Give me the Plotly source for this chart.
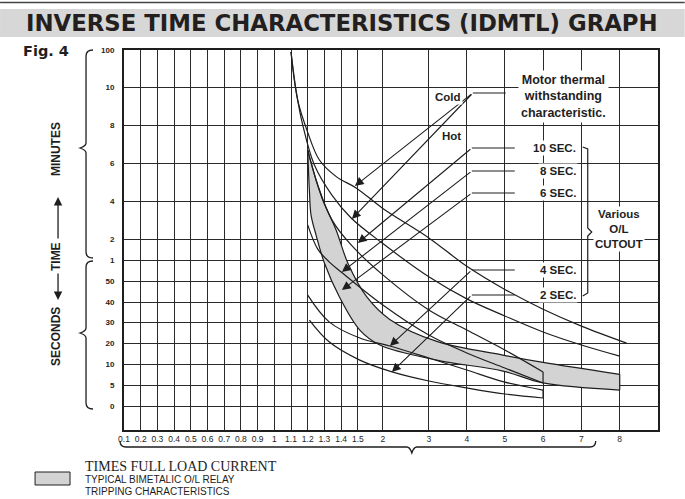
import numpy as np
import plotly.graph_objects as go

# ---------------- data ----------------
# x: multiples of full load current ; y: time in seconds
X_TICK_VALUES = [0.1, 0.2, 0.3, 0.4, 0.5, 0.6, 0.7, 0.8, 0.9, 1.0, 1.1, 1.2, 1.3, 1.4, 1.5, 2, 3, 4, 5, 6, 7, 8]
X_TICK_LABELS = ["0.1", "0.2", "0.3", "0.4", "0.5", "0.6", "0.7", "0.8", "0.9", "1", "1.1", "1.2", "1.3", "1.4", "1.5",
                 "2", "3", "4", "5", "6", "7", "8"]
Y_TICK_SECONDS = [0, 5, 10, 20, 30, 40, 50, 60, 120, 240, 360, 480, 600, 6000]
Y_TICK_LABELS = ["0", "5", "10", "20", "30", "40", "50", "1", "2", "4", "6", "8", "10", "100"]

cold_x = [1.1, 1.14, 1.195, 1.27, 1.375, 1.49, 2, 3, 4, 5, 6, 7, 8.18]
cold_t = [5712, 560, 466, 371, 317, 283, 218, 125, 57, 46, 36.5, 28.3, 20.2]

hot_x = [1.1, 1.13, 1.17, 1.24, 1.345, 1.46, 2, 3, 4, 5, 6, 7, 8]
hot_t = [5712, 592, 482, 355, 260, 188, 108, 52, 41.5, 33.2, 25.5, 19.3, 14.0]

band_upper_x = [1.2, 1.25, 1.29, 1.37, 1.44, 1.68, 2.15, 3.21, 4.95, 6, 8]
band_upper_t = [402, 308, 245, 150, 58.6, 42.4, 31.5, 21, 14.5, 11.0, 7.6]
band_lower_x = [1.2, 1.21, 1.22, 1.25, 1.3, 1.39, 1.54, 1.94, 3.21, 4.95, 6, 8]
band_lower_t = [402, 276, 197, 134, 58.6, 42.4, 26.4, 19.3, 12.1, 8.4, 5.5, 3.8]

sec10_x = [1.2, 1.26, 1.345, 1.46, 2, 3, 4, 5, 6]
sec10_t = [402, 292, 182, 104, 52.9, 36.1, 26.4, 16.9, 8.17]
sec8_x = [1.2, 1.26, 1.33, 1.4, 2, 3, 4, 5, 6]
sec8_t = [166, 92, 59, 54.3, 38.5, 24, 15.5, 9.15, 5.5]
sec4_x = [1.2, 1.33, 1.54, 2.15, 3, 4, 5, 6]
sec4_t = [43.3, 30.2, 22.6, 18.8, 13.1, 8.66, 5.7, 3.8]
sec2_x = [1.21, 1.33, 1.54, 2.2, 3, 4, 5, 6]
sec2_t = [31.2, 20.7, 12.1, 8.2, 5.98, 4.3, 2.86, 1.9]

# ---------------- axis geometry (layout, not data) ----------------
X_TICK_POS = [16.71 * i for i in range(15)] + [259.0, 305.0, 343.0, 381.0, 419.3, 457.7, 496.0]
X_MAP_V = X_TICK_VALUES + [9]
X_MAP_P = X_TICK_POS + [534.3]
Y_TICK_POS = [24, 45, 65.5, 86.5, 107.5, 128, 149, 170, 190.5, 228.5, 266.5, 304.5, 342.5, 380]


def xm(v):
    return np.interp(v, X_MAP_V, X_MAP_P)


def ym(t):
    return np.interp(t, Y_TICK_SECONDS, Y_TICK_POS)


L, R, T, B = 124, 658.3, 50, 430


def PX(x):
    return (x - L) / (R - L)


def PY(y):
    return (B - y) / (B - T)


INK = "#1e1e1e"
LINE = dict(color=INK, width=1.2, shape="spline", smoothing=1.0)
fig = go.Figure()

# gray band (typical bimetallic relay tripping characteristics)
fig.add_trace(go.Scatter(x=xm(band_lower_x), y=ym(band_lower_t), mode="lines", line=LINE, hoverinfo="skip"))
fig.add_trace(go.Scatter(x=xm(band_upper_x), y=ym(band_upper_t), mode="lines", line=LINE, fill="tonexty",
                         fillcolor="#d3d3d3", hoverinfo="skip"))
fig.add_trace(go.Scatter(x=xm([band_upper_x[-1], band_lower_x[-1]]), y=ym([band_upper_t[-1], band_lower_t[-1]]),
                         mode="lines", line=dict(color=INK, width=1.2), hoverinfo="skip"))

for cx, ct in [(cold_x, cold_t), (hot_x, hot_t), (sec10_x, sec10_t), (sec8_x, sec8_t),
               (sec4_x, sec4_t), (sec2_x, sec2_t)]:
    fig.add_trace(go.Scatter(x=xm(cx), y=ym(ct), mode="lines", line=LINE, hoverinfo="skip"))

# closing ticks at the right end of the cutout pairs
for a, b in [((sec10_x, sec10_t), (sec8_x, sec8_t)), ((sec4_x, sec4_t), (sec2_x, sec2_t))]:
    fig.add_trace(go.Scatter(x=xm([a[0][-1], b[0][-1]]), y=ym([a[1][-1], b[1][-1]]), mode="lines",
                             line=dict(color=INK, width=1.2), hoverinfo="skip"))

shapes = []
ann = []


def A(**kw):
    d = dict(xref="paper", yref="paper", xanchor="center", yanchor="middle", showarrow=False)
    d.update(kw)
    ann.append(d)


# title band
shapes.append(dict(type="rect", xref="paper", yref="paper", x0=PX(0), x1=PX(685), y0=PY(37), y1=PY(9),
                   fillcolor="#d7d7d7", line=dict(width=0), layer="below"))
shapes.append(dict(type="line", xref="paper", yref="paper", x0=PX(0), x1=PX(685), y0=PY(2.5), y1=PY(2.5),
                   line=dict(color="#444", width=1.5)))
A(x=PX(342), y=PY(23), text="<b>INVERSE TIME CHARACTERISTICS (IDMTL) GRAPH</b>",
  font=dict(family="DejaVu Sans", size=22.8, color="#231f20"))
A(x=PX(21), y=PY(51), xanchor="left", text="<b>Fig. 4</b>", font=dict(family="DejaVu Sans", size=14.5, color="#231f20"))


# left braces
def brace_v(x, y0, y1, ym_, w=6):
    xr = x + 7
    p = (f"M {PX(xr)},{PY(y0)} Q {PX(x)},{PY(y0)} {PX(x)},{PY(y0 + 6)} "
         f"L {PX(x)},{PY(ym_ - 5)} Q {PX(x)},{PY(ym_ - 2)} {PX(x - w)},{PY(ym_)} "
         f"Q {PX(x)},{PY(ym_ + 2)} {PX(x)},{PY(ym_ + 5)} "
         f"L {PX(x)},{PY(y1 - 6)} Q {PX(x)},{PY(y1)} {PX(xr)},{PY(y1)}")
    return dict(type="path", xref="paper", yref="paper", path=p, line=dict(color=INK, width=1.3))


shapes.append(brace_v(86, 50, 258, 148))
shapes.append(brace_v(86, 261, 409, 333))

# bottom brace
x0b, x1b, yb, xmid = 120, 596, 447, 412
p = (f"M {PX(x0b)},{PY(441)} Q {PX(x0b)},{PY(yb)} {PX(x0b + 6)},{PY(yb)} "
     f"L {PX(xmid - 5)},{PY(yb)} Q {PX(xmid - 2)},{PY(yb)} {PX(xmid)},{PY(yb + 6)} "
     f"Q {PX(xmid + 2)},{PY(yb)} {PX(xmid + 5)},{PY(yb)} "
     f"L {PX(x1b - 6)},{PY(yb)} Q {PX(x1b)},{PY(yb)} {PX(x1b)},{PY(441)}")
shapes.append(dict(type="path", xref="paper", yref="paper", path=p, line=dict(color=INK, width=1.3)))

# vertical axis words
for txt, yy in [("MINUTES", 149), ("TIME", 257), ("SECONDS", 337)]:
    A(x=PX(56), y=PY(yy), textangle=-90, text=f"<b>{txt}</b>",
      font=dict(family="Liberation Sans", size=12, color=INK))
A(x=PX(58), y=PY(197), ax=0, ay=43, axref="pixel", ayref="pixel", showarrow=True, arrowhead=2,
  arrowsize=1.3, arrowwidth=1.3, arrowcolor=INK, text="")
A(x=PX(58), y=PY(300), ax=0, ay=-28, axref="pixel", ayref="pixel", showarrow=True, arrowhead=2,
  arrowsize=1.3, arrowwidth=1.3, arrowcolor=INK, text="")

# legend
shapes.append(dict(type="rect", xref="paper", yref="paper", x0=PX(35), x1=PX(70), y0=PY(485), y1=PY(472),
                   fillcolor="#d3d3d3", line=dict(color=INK, width=1)))
A(x=PX(83), y=PY(466), xanchor="left", text="TIMES FULL LOAD CURRENT",
  font=dict(family="Liberation Serif", size=14, color=INK))
A(x=PX(83), y=PY(479), xanchor="left", text="TYPICAL BIMETALIC O/L RELAY",
  font=dict(family="Liberation Sans", size=10, color=INK))
A(x=PX(83), y=PY(491), xanchor="left", text="TRIPPING CHARACTERISTICS",
  font=dict(family="Liberation Sans", size=10, color=INK))


# leaders + arrows
def arrow(x0, y0, tipx, tipy, head=2):
    A(x=PX(tipx), y=PY(tipy), ax=x0 - tipx, ay=y0 - tipy, axref="pixel", ayref="pixel", showarrow=True,
      arrowhead=head, arrowsize=1.6, arrowwidth=1.1, arrowcolor=INK, text="", standoff=0)


def hline(xa, xb, y):
    shapes.append(dict(type="line", xref="paper", yref="paper", x0=PX(xa), x1=PX(xb), y0=PY(y), y1=PY(y),
                       line=dict(color=INK, width=1.1)))


hline(506, 473, 93)
arrow(473, 93, 355, 186)
arrow(473, 93, 352, 219)
for hy, tx, ty in [(148, 358, 243), (171, 342, 272), (193, 342, 290), (270, 390, 346), (295, 392, 372)]:
    hline(515, 472, hy)
    arrow(472, hy, tx, ty)

# O/L bracket
p = (f"M {PX(583)},{PY(147)} L {PX(588)},{PY(149)} L {PX(588)},{PY(228)} L {PX(592)},{PY(232)} "
     f"L {PX(588)},{PY(236)} L {PX(588)},{PY(293)} L {PX(583)},{PY(296)}")
shapes.append(dict(type="path", xref="paper", yref="paper", path=p, line=dict(color=INK, width=1.2)))

BOLD = dict(family="Liberation Sans", size=11.5, color=INK)
A(x=PX(448), y=PY(97), text="<b>Cold</b>", font=BOLD, bgcolor="white")
A(x=PX(452), y=PY(136), text="<b>Hot</b>", font=BOLD, bgcolor="white")
A(x=PX(564), y=PY(96), text="<b>Motor thermal<br>withstanding<br>characteristic.</b>",
  font=dict(family="Liberation Sans", size=12.5, color=INK), bgcolor="white", borderpad=2)
for txt, yy in [("10 SEC.", 148), ("8 SEC.", 171), ("6 SEC.", 193), ("4 SEC.", 270), ("2 SEC.", 295)]:
    A(x=PX(578), y=PY(yy), xanchor="right", text=f"<b>{txt}</b>", font=BOLD, bgcolor="white", borderpad=1)
A(x=PX(619), y=PY(229), text="<b>Various<br>O/L<br>CUTOUT</b>",
  font=dict(family="Liberation Sans", size=11.5, color=INK), bgcolor="white")

fig.update_layout(
    width=685, height=499, margin=dict(l=124, r=685 - 658.3, t=50, b=69),
    paper_bgcolor="white", plot_bgcolor="white", showlegend=False,
    shapes=shapes, annotations=ann,
    xaxis=dict(range=[0, 534.3], tickvals=X_TICK_POS, ticktext=X_TICK_LABELS, showgrid=True,
               gridcolor="#2a2a2a", gridwidth=1.2, showline=True, linecolor=INK, linewidth=2, mirror=True,
               zeroline=False, ticks="", tickfont=dict(family="Liberation Sans", size=8.5, color=INK),
               fixedrange=True),
    yaxis=dict(range=[0, 380], tickvals=Y_TICK_POS, ticktext=[f"<b>{t}</b>" for t in Y_TICK_LABELS],
               showgrid=True, gridcolor="#2a2a2a", gridwidth=1.2, showline=True, linecolor=INK, linewidth=2,
               mirror=True, zeroline=False, ticks="", ticklabelstandoff=6,
               tickfont=dict(family="Liberation Sans", size=8, color=INK), fixedrange=True),
)

fig.write_html("out.html", config={"displayModeBar": False}, post_script="document.body.style.margin='0px';")
